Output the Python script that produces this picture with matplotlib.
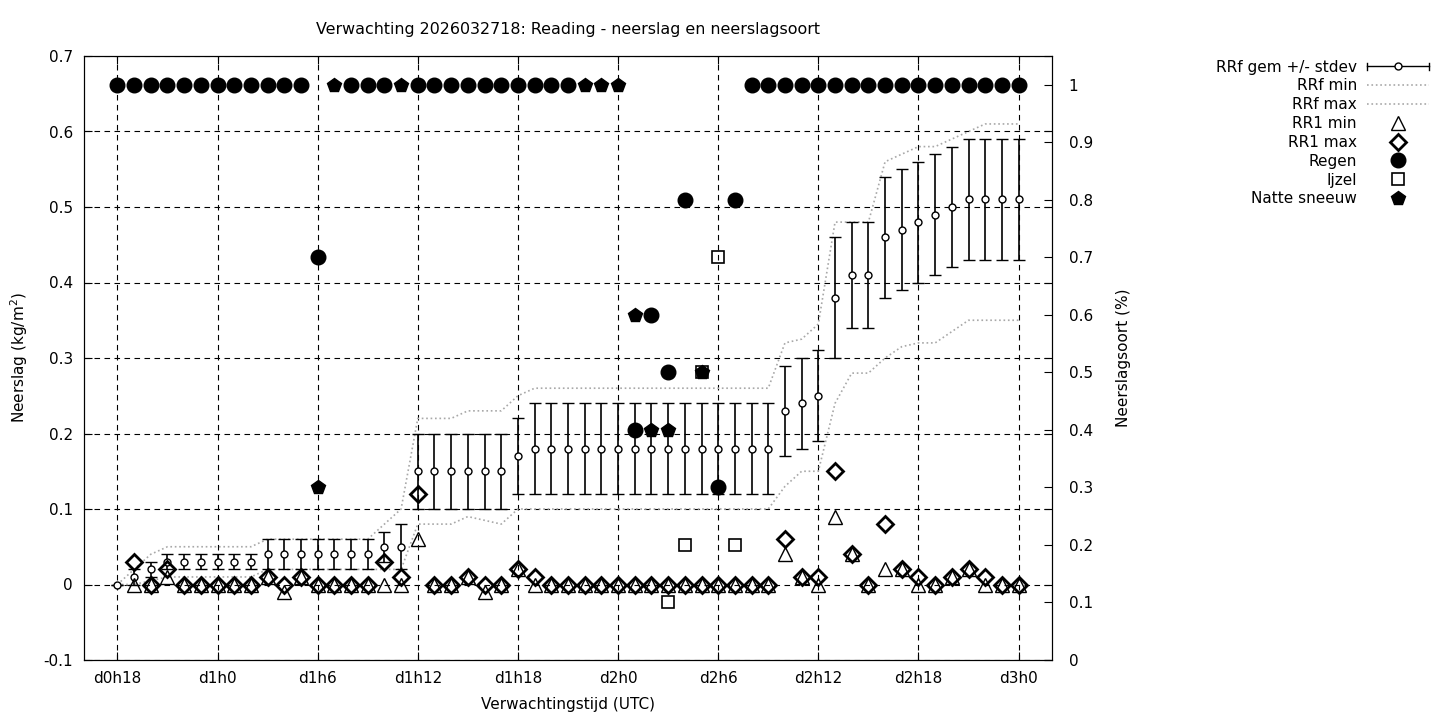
import numpy as np
import matplotlib
matplotlib.use('Agg')
import matplotlib.pyplot as plt
from matplotlib.lines import Line2D
from matplotlib.legend_handler import HandlerBase
from matplotlib.ticker import FuncFormatter

nan = np.nan

# uren vanaf d0h0 (d0h18 .. d3h0)
uren = list(range(18, 73))

# RRf gemiddelde en stdev (kg/m2)
rrf_gem = [0.00, 0.01, 0.02, 0.03, 0.03, 0.03, 0.03, 0.03, 0.03, 0.04,
           0.04, 0.04, 0.04, 0.04, 0.04, 0.04, 0.05, 0.05, 0.15, 0.15,
           0.15, 0.15, 0.15, 0.15, 0.17, 0.18, 0.18, 0.18, 0.18, 0.18,
           0.18, 0.18, 0.18, 0.18, 0.18, 0.18, 0.18, 0.18, 0.18, 0.18,
           0.23, 0.24, 0.25, 0.38, 0.41, 0.41, 0.46, 0.47, 0.48, 0.49,
           0.50, 0.51, 0.51, 0.51, 0.51]
rrf_std = [0.00, 0.01, 0.01, 0.01, 0.01, 0.01, 0.01, 0.01, 0.01, 0.02,
           0.02, 0.02, 0.02, 0.02, 0.02, 0.02, 0.02, 0.03, 0.05, 0.05,
           0.05, 0.05, 0.05, 0.05, 0.05, 0.06, 0.06, 0.06, 0.06, 0.06,
           0.06, 0.06, 0.06, 0.06, 0.06, 0.06, 0.06, 0.06, 0.06, 0.06,
           0.06, 0.06, 0.06, 0.08, 0.07, 0.07, 0.08, 0.08, 0.08, 0.08,
           0.08, 0.08, 0.08, 0.08, 0.08]
rrf_min = [0.00, 0.00, 0.005, 0.01, 0.01, 0.01, 0.01, 0.01, 0.01, 0.02,
           0.02, 0.02, 0.02, 0.02, 0.02, 0.02, 0.02, 0.02, 0.08, 0.08,
           0.08, 0.09, 0.085, 0.08, 0.10, 0.10, 0.10, 0.10, 0.10, 0.10,
           0.10, 0.10, 0.10, 0.10, 0.10, 0.10, 0.10, 0.10, 0.10, 0.10,
           0.13, 0.15, 0.15, 0.24, 0.28, 0.28, 0.30, 0.315, 0.32, 0.32,
           0.335, 0.35, 0.35, 0.35, 0.35]
rrf_max = [0.00, 0.02, 0.04, 0.05, 0.05, 0.05, 0.05, 0.05, 0.05, 0.06,
           0.06, 0.06, 0.06, 0.06, 0.06, 0.06, 0.08, 0.10, 0.22, 0.22,
           0.22, 0.23, 0.23, 0.23, 0.25, 0.26, 0.26, 0.26, 0.26, 0.26,
           0.26, 0.26, 0.26, 0.26, 0.26, 0.26, 0.26, 0.26, 0.26, 0.26,
           0.32, 0.325, 0.345, 0.48, 0.48, 0.48, 0.56, 0.57, 0.58, 0.58,
           0.59, 0.60, 0.61, 0.61, 0.61]

# RR1 min / max
rr1_min = [nan, 0.00, 0.00, 0.01, 0.00, 0.00, 0.00, 0.00, 0.00, 0.01,
           -0.01, 0.01, 0.00, 0.00, 0.00, 0.00, 0.00, 0.00, 0.06, 0.00,
           0.00, 0.01, -0.01, 0.00, 0.02, 0.00, 0.00, 0.00, 0.00, 0.00,
           0.00, 0.00, 0.00, 0.00, 0.00, 0.00, 0.00, 0.00, 0.00, 0.00,
           0.04, 0.01, 0.00, 0.09, 0.04, 0.00, 0.02, 0.02, 0.00, 0.00,
           0.01, 0.02, 0.00, 0.00, 0.00]
rr1_max = [nan, 0.03, 0.00, 0.02, 0.00, 0.00, 0.00, 0.00, 0.00, 0.01,
           0.00, 0.01, 0.00, 0.00, 0.00, 0.00, 0.03, 0.01, 0.12, 0.00,
           0.00, 0.01, 0.00, 0.00, 0.02, 0.01, 0.00, 0.00, 0.00, 0.00,
           0.00, 0.00, 0.00, 0.00, 0.00, 0.00, 0.00, 0.00, 0.00, 0.00,
           0.06, 0.01, 0.01, 0.15, 0.04, 0.00, 0.08, 0.02, 0.01, 0.00,
           0.01, 0.02, 0.01, 0.00, 0.00]

# neerslagsoort (fractie, rechter as)
regen = [1, 1, 1, 1, 1, 1, 1, 1, 1, 1,
         1, 1, 0.7, nan, 1, 1, 1, nan, 1, 1,
         1, 1, 1, 1, 1, 1, 1, 1, nan, nan,
         nan, 0.4, 0.6, 0.5, 0.8, nan, 0.3, 0.8, 1, 1,
         1, 1, 1, 1, 1, 1, 1, 1, 1, 1,
         1, 1, 1, 1, 1]
ijzel = [nan] * 33 + [0.1, 0.2, 0.5, 0.7, 0.2] + [nan] * 17
natte = [nan, nan, nan, nan, nan, nan, nan, nan, nan, nan,
         nan, nan, 0.3, 1, nan, nan, nan, 1, nan, nan,
         nan, nan, nan, nan, nan, nan, nan, nan, 1, 1,
         1, 0.6, 0.4, 0.4, nan, 0.5, nan, nan, nan, nan,
         nan, nan, nan, nan, nan, nan, nan, nan, nan, nan,
         nan, nan, nan, nan, nan]

xticks = list(range(18, 73, 6))
xlabels = ['d%dh%d' % (h // 24, h % 24) for h in xticks]


class GemHandler(HandlerBase):
    # legenda-symbool als in gnuplot: |---o---|
    def create_artists(self, legend, orig_handle, xdescent, ydescent,
                       width, height, fontsize, trans):
        x0, x1 = -xdescent, -xdescent + width
        ym = -ydescent + height / 2
        d = height * 0.35
        arts = [Line2D([x0, x1], [ym, ym], color='black', lw=1),
                Line2D([x0, x0], [ym - d, ym + d], color='black', lw=1),
                Line2D([x1, x1], [ym - d, ym + d], color='black', lw=1),
                Line2D([(x0 + x1) / 2], [ym], marker='o', ms=5, mfc='white',
                       mec='black', mew=1, ls='none')]
        for a in arts:
            a.set_transform(trans)
        return arts


plt.rcParams['font.family'] = 'DejaVu Sans'
plt.rcParams['font.size'] = 11

fig = plt.figure(figsize=(14.4, 7.2), dpi=100)
ax = fig.add_axes([84 / 1440, 60 / 720, 968 / 1440, 604 / 720])

gem = ax.errorbar(uren, rrf_gem, yerr=rrf_std, fmt='o', ms=5, mfc='white',
                  mec='black', mew=1, ecolor='black', elinewidth=1.2,
                  capsize=4, capthick=1.2, zorder=3)
l_min, = ax.plot(uren, rrf_min, ls=':', color='#a8a8a8', lw=1.2)
l_max, = ax.plot(uren, rrf_max, ls=':', color='#a8a8a8', lw=1.2)
p_rmin, = ax.plot(uren, rr1_min, ls='none', marker='^', ms=10, mfc='none',
                  mec='black', mew=1, zorder=4)
p_rmax, = ax.plot(uren, rr1_max, ls='none', marker='D', ms=8, mfc='none',
                  mec='black', mew=2, zorder=4)

ax2 = ax.twinx()
p_regen, = ax2.plot(uren, regen, ls='none', marker='o', ms=10.5, color='black')
p_ijzel, = ax2.plot(uren, ijzel, ls='none', marker='s', ms=9, mfc='none',
                    mec='black', mew=1.2)
p_natte, = ax2.plot(uren, natte, ls='none', marker='p', ms=10, color='black')

ax.set_xlim(16, 74)
ax.set_ylim(-0.1, 0.7)
ax2.set_ylim(0, 1.05)

fmt = FuncFormatter(lambda v, p: '%g' % (round(v, 2) + 0.0))
ax.set_xticks(xticks)
ax.set_xticklabels(xlabels)
ax.set_yticks(np.arange(-0.1, 0.71, 0.1))
ax.yaxis.set_major_formatter(fmt)
ax2.set_yticks(np.arange(0, 1.01, 0.1))
ax2.yaxis.set_major_formatter(fmt)

ax.tick_params(direction='in', top=True, right=True, length=6, pad=8)
ax2.tick_params(direction='in', length=6, pad=12)

ax.set_axisbelow(True)
ax.grid(True, ls=(0, (5, 4)), color='black', lw=0.8)

ax.set_title('Verwachting 2026032718: Reading - neerslag en neerslagsoort',
             fontsize=11.4, pad=16)
ax.set_xlabel('Verwachtingstijd (UTC)')
ax.set_ylabel('Neerslag (kg/m$^2$)')
ax2.set_ylabel('Neerslagsoort (%)')
ax.xaxis.set_label_coords(0.5, -0.062)
ax.yaxis.set_label_coords(-0.056, 0.5)
ax2.yaxis.set_label_coords(1.066, 0.5)

handles = [gem, l_min, l_max, p_rmin, p_rmax, p_regen, p_ijzel, p_natte]
labels = ['RRf gem +/- stdev', 'RRf min', 'RRf max', 'RR1 min', 'RR1 max',
          'Regen', 'Ijzel', 'Natte sneeuw']
leg = ax2.legend(handles, labels, loc='upper right', markerfirst=False,
                 frameon=False, bbox_to_anchor=(1437 / 1440, 1 - 52 / 720),
                 bbox_transform=fig.transFigure, borderpad=0, handlelength=4.1,
                 handletextpad=0.65, labelspacing=0.25,
                 handler_map={type(gem): GemHandler()})

plt.savefig('out.png', dpi=100)
